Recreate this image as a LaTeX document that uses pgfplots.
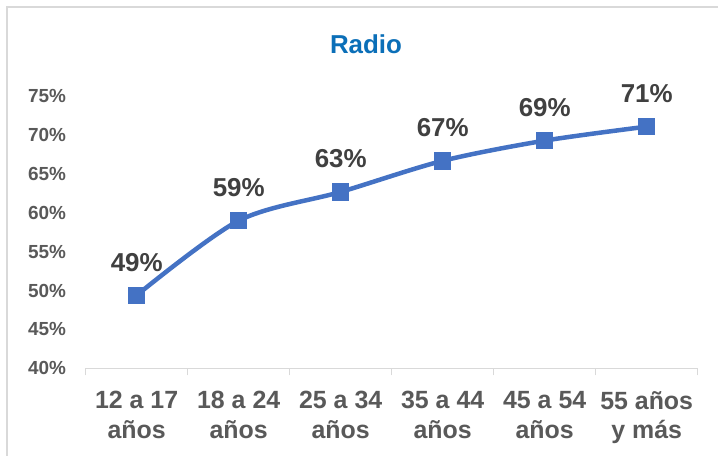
\documentclass[border=0pt]{standalone}
\usepackage{pgfplots}
\pgfplotsset{compat=1.18}
\usepackage{fontspec}
\setmainfont{Liberation Sans}
\definecolor{lineblue}{HTML}{4472C4}
\definecolor{titleblue}{HTML}{0B6FB8}
\definecolor{lblgray}{HTML}{404040}
\definecolor{tickgray}{HTML}{595959}
\definecolor{axgray}{HTML}{D9D9D9}
\begin{document}
\begin{tikzpicture}[x=1bp,y=1bp]
\useasboundingbox (0,0) rectangle (718,456);
\fill[white] (0,0) rectangle (718,456);
\draw[axgray, line width=1.5bp] (7,0) -- (7,449) -- (718,449);
\node[font=\fontsize{26}{26}\selectfont\bfseries, text=titleblue, anchor=base] at (366,402) {Radio};
\begin{axis}[
  at={(84,112.8)}, anchor=south west,
  scale only axis, width=612bp, height=272bp,
  xmin=-0.5, xmax=5.5, ymin=40, ymax=75,
  clip=false,
  axis x line*=bottom, axis y line*=left,
  x axis line style={draw=axgray, line width=1.5bp, -},
  y axis line style={draw=none},
  xtick={0,1,2,3,4,5},
  xticklabels={{12 a 17\\años},{18 a 24\\años},{25 a 34\\años},{35 a 44\\años},{45 a 54\\años},{55 años\\y más}},
  major x tick style={draw=none},
  minor xtick={-0.5,0.5,1.5,2.5,3.5,4.5,5.5},
  minor x tick style={draw=axgray, line width=1.5bp},
  minor tick length=7bp,
  tick align=outside,
  xticklabel style={align=center, font=\fontsize{25}{30}\selectfont\bfseries, text=tickgray, yshift=-15bp},
  ytick={40,45,50,55,60,65,70,75},
  yticklabels={40\%,45\%,50\%,55\%,60\%,65\%,70\%,75\%},
  major y tick style={draw=none},
  yticklabel style={font=\fontsize{19}{19}\selectfont\bfseries, text=tickgray, xshift=-12bp},
  point meta=explicit symbolic,
  nodes near coords={\pgfplotspointmeta\%},
  every node near coord/.append style={anchor=base, yshift=24bp, inner sep=0pt, font=\fontsize{26}{26}\selectfont\bfseries, text=lblgray},
]
\addplot[lineblue, line width=4.5bp, smooth, mark=square*, mark size=6.5bp, mark options={solid, fill=lineblue, draw=none}]
  table[meta=lbl] {
x y lbl
0 49.4 49
1 59.0 59
2 62.7 63
3 66.7 67
4 69.3 69
5 71.1 71
};
\end{axis}
\end{tikzpicture}
\end{document}
